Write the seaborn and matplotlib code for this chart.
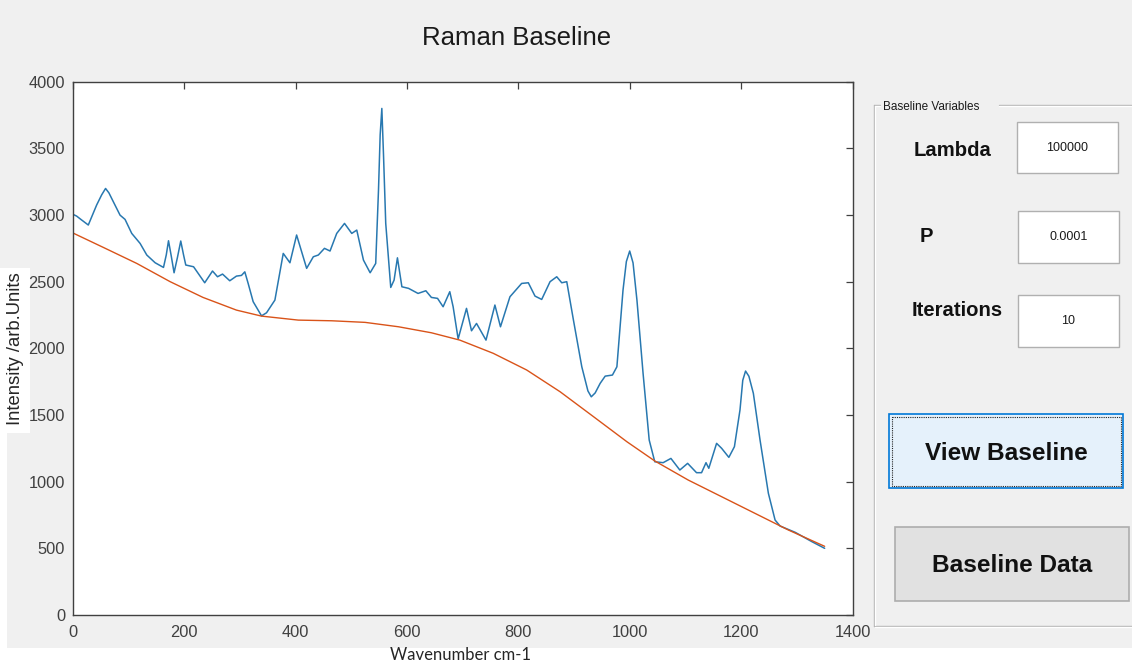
import numpy as np
import pandas as pd
import matplotlib
matplotlib.use("Agg")
import matplotlib.pyplot as plt
from matplotlib.patches import Rectangle
import seaborn as sns

# Measured Raman spectrum (wavenumber in cm-1, intensity in arb. units)
wavenumber = [0, 7, 15, 28, 43, 52, 59, 65, 73, 85, 94, 106, 121, 133, 148, 163,
              168, 172, 177, 182, 188, 194, 199, 203, 217, 237, 251, 260, 269,
              282, 294, 303, 309, 315, 324, 339, 348, 363, 378, 390, 402, 420,
              432, 441, 452, 462, 474, 488, 501, 510, 522, 534, 544, 549, 552,
              555, 558, 562, 571, 577, 583, 591, 603, 620, 634, 644, 655, 665,
              677, 683, 692, 707, 716, 725, 742, 758, 768, 785, 806, 818, 830,
              842, 857, 869, 878, 887, 899, 914, 925, 931, 938, 947, 956, 969,
              977, 988, 994, 1000, 1006, 1013, 1024, 1035, 1045, 1060, 1074,
              1090, 1104, 1120, 1129, 1137, 1142, 1156, 1165, 1178, 1188, 1198,
              1203, 1208, 1214, 1222, 1234, 1249, 1261, 1270, 1297, 1327, 1350]
intensity = [3005, 2991, 2965, 2924, 3074, 3150, 3198, 3165, 3098, 2998, 2966,
             2861, 2786, 2699, 2641, 2606, 2700, 2806, 2690, 2566, 2680, 2804,
             2700, 2624, 2611, 2491, 2579, 2536, 2556, 2506, 2541, 2546, 2573,
             2486, 2349, 2243, 2266, 2361, 2711, 2641, 2849, 2599, 2686, 2699,
             2749, 2729, 2861, 2936, 2861, 2886, 2661, 2566, 2636, 3186, 3600,
             3798, 3450, 2936, 2456, 2511, 2678, 2461, 2449, 2411, 2431, 2381,
             2374, 2311, 2424, 2311, 2070, 2299, 2131, 2186, 2061, 2324, 2161,
             2386, 2486, 2491, 2391, 2366, 2499, 2536, 2491, 2499, 2211, 1861,
             1680, 1636, 1665, 1737, 1791, 1799, 1861, 2436, 2650, 2729, 2640,
             2361, 1812, 1312, 1149, 1142, 1174, 1087, 1137, 1067, 1067, 1142,
             1100, 1287, 1250, 1182, 1262, 1537, 1760, 1829, 1790, 1662, 1312,
             912, 712, 667, 620, 550, 500]

# Fitted baseline
baseline_x = [0, 55, 115, 175, 234, 294, 339, 405, 465, 525, 585, 644, 695,
              755, 815, 875, 935, 995, 1045, 1105, 1165, 1225, 1285, 1350]
baseline_y = [2865, 2756, 2636, 2499, 2381, 2286, 2241, 2211, 2206, 2194, 2161,
              2116, 2061, 1962, 1837, 1674, 1487, 1299, 1155, 1012, 887, 762,
              637, 515]

x_ticks = [0, 200, 400, 600, 800, 1000, 1200, 1400]
y_ticks = [0, 500, 1000, 1500, 2000, 2500, 3000, 3500, 4000]

# Baseline parameters shown in the side panel
param_labels = ["Lambda", "P", "Iterations"]
param_values = ["100000", "0.0001", "10"]

sns.set_style("white")
plt.rcParams["font.family"] = ["Liberation Sans", "DejaVu Sans"]

W, H = 1132, 662
fig = plt.figure(figsize=(W / 100, H / 100), dpi=100, facecolor="#f0f0f0")

# Pixel-space layer for window widgets
bg = fig.add_axes([0, 0, 1, 1], zorder=0)
bg.set_xlim(0, W)
bg.set_ylim(H, 0)
bg.axis("off")
bg.add_patch(Rectangle((0, 648), W, 14, facecolor="white", edgecolor="none"))
bg.add_patch(Rectangle((0, 433), 7, 215, facecolor="white", edgecolor="none"))
bg.add_patch(Rectangle((0, 268), 30, 165, facecolor="white", edgecolor="none"))

# Plot axes
left, right, top, bottom = 72.7, 852.5, 81.5, 615.0
ax = fig.add_axes([left / W, 1 - bottom / H, (right - left) / W, (bottom - top) / H],
                  zorder=1)
ax.set_facecolor("white")

spec = pd.DataFrame({"wavenumber": wavenumber, "intensity": intensity})
base = pd.DataFrame({"wavenumber": baseline_x, "intensity": baseline_y})
sns.lineplot(data=spec, x="wavenumber", y="intensity", ax=ax, color="#2878b0",
             linewidth=1.1, estimator=None, sort=False)
sns.lineplot(data=base, x="wavenumber", y="intensity", ax=ax, color="#d95319",
             linewidth=1.0, estimator=None, sort=False)

ax.set_xlim(0, 1400)
ax.set_ylim(0, 4000)
ax.set_xticks(x_ticks)
ax.set_yticks(y_ticks)
ax.set_xticklabels([str(t) for t in x_ticks])
ax.set_yticklabels([str(t) for t in y_ticks])
ax.tick_params(axis="both", direction="in", length=5, width=0.9, colors="#404040",
               labelsize=11.8, top=True, right=True)
ax.tick_params(axis="x", pad=7)
ax.tick_params(axis="y", pad=5.5)
for s in ax.spines.values():
    s.set_color("#404040")
    s.set_linewidth(1.0)
ax.set_xlabel("")
ax.set_ylabel("")

# Title and axis labels
fig.text(517 / W, 1 - 38 / H, "Raman Baseline", ha="center", va="center",
         fontsize=18.5, color="#1a1a1a")
fig.text(15.5 / W, 1 - 349 / H, "Intensity /arb.Units", rotation=90,
         ha="center", va="center", fontsize=13.3, color="#262626")
fig.text(460 / W, 1 - 655 / H, "Wavenumber cm-1", ha="center", va="center",
         fontsize=12, color="#262626", family=["Lato", "DejaVu Sans"])

# Side panel frame
edge = "#b4b4b4"
bg.plot([874, 880], [105, 105], color=edge, lw=1)
bg.plot([999, W], [105, 105], color=edge, lw=1)
bg.plot([874, 874], [105, 626], color=edge, lw=1)
bg.plot([874, W], [626, 626], color=edge, lw=1)
bg.plot([875, 880], [106, 106], color="white", lw=1)
bg.plot([999, W], [106, 106], color="white", lw=1)
bg.plot([875, 875], [106, 625], color="white", lw=1)
bg.plot([875, W], [627, 627], color="white", lw=1)
bg.text(883, 107, "Baseline Variables", ha="left", va="center", fontsize=8.5,
        color="#1a1a1a")

label_pos = [(953, 151), (926.5, 237), (957, 310)]
box_pos = [(1017, 122, 101, 51), (1018, 211, 101, 52), (1018, 295, 101, 52)]
for lab, val, (lx, ly), (bx, by, bw, bh) in zip(param_labels, param_values,
                                                 label_pos, box_pos):
    bg.text(lx, ly, lab, ha="center", va="center", fontsize=14.6,
            fontweight="bold", color="#111111")
    bg.add_patch(Rectangle((bx, by), bw, bh, facecolor="white",
                           edgecolor="#b0b0b0", lw=1))
    bg.text(bx + bw / 2, by + bh / 2 + 0.5, val, ha="center", va="center",
            fontsize=9, color="#1a1a1a")

# Buttons
bg.add_patch(Rectangle((889, 414), 234, 74, facecolor="#e5f1fb",
                       edgecolor="#0078d7", lw=1.2))
bg.add_patch(Rectangle((891.5, 416.5), 229, 69, facecolor="none",
                       edgecolor="#222222", lw=0.8, linestyle=(0, (1, 1))))
bg.text(1006.5, 453, "View Baseline", ha="center", va="center", fontsize=17.6,
        fontweight="bold", color="#111111")

bg.add_patch(Rectangle((895, 527), 234, 74, facecolor="#e1e1e1",
                       edgecolor="#adadad", lw=1.2))
bg.text(1012.5, 565, "Baseline Data", ha="center", va="center", fontsize=17.6,
        fontweight="bold", color="#111111")

fig.savefig("out.png", dpi=100, facecolor=fig.get_facecolor())
